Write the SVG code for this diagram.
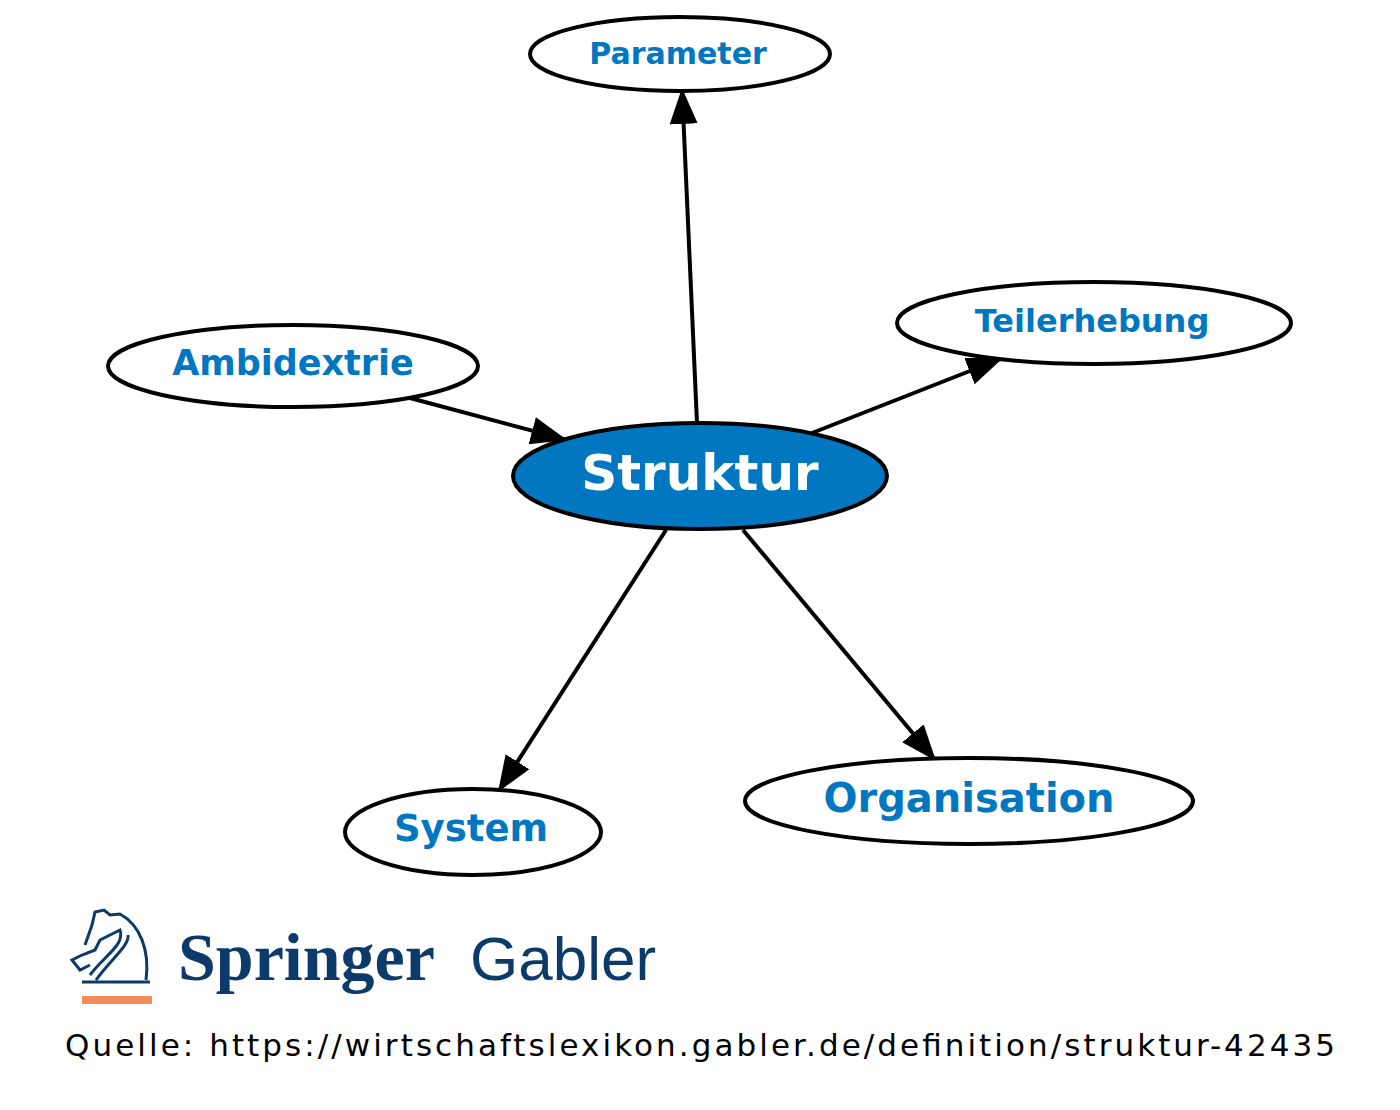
<svg xmlns="http://www.w3.org/2000/svg" width="1400" height="1110" viewBox="0 0 1400 1110">
<style>
.n ellipse{fill:#fff;stroke:#000;stroke-width:4}
.n text{font-family:"DejaVu Sans",sans-serif;font-weight:bold;fill:#0077c0;text-anchor:middle}
.e line{stroke:#000;stroke-width:4}
</style>
<defs>
<marker id="a" markerUnits="userSpaceOnUse" markerWidth="40" markerHeight="30" refX="36" refY="14" orient="auto" viewBox="0 0 40 30">
<path d="M0,0 L36,14 L0,28 Z" fill="#000"/>
</marker>
</defs>
<rect width="1400" height="1110" fill="#fff"/>
<g class="e">
<line x1="697" y1="423" x2="682" y2="88" marker-end="url(#a)"/>
<line x1="410" y1="398" x2="567" y2="440" marker-end="url(#a)"/>
<line x1="812" y1="433" x2="1003" y2="358" marker-end="url(#a)"/>
<line x1="666" y1="530" x2="498" y2="792" marker-end="url(#a)"/>
<line x1="743" y1="530" x2="936" y2="761" marker-end="url(#a)"/>
</g>
<g id="parameter" class="n"><ellipse cx="680" cy="54" rx="150" ry="37"/><text x="678" y="64" font-size="30">Parameter</text></g>
<g id="teilerhebung" class="n"><ellipse cx="1094" cy="323" rx="197" ry="41"/><text x="1092" y="332" font-size="32">Teilerhebung</text></g>
<g id="ambidextrie" class="n"><ellipse cx="293" cy="366" rx="185" ry="41"/><text x="293" y="375" font-size="35">Ambidextrie</text></g>
<g id="struktur" class="n"><ellipse cx="700" cy="476" rx="187" ry="53" style="fill:#0077c0"/><text x="700" y="490" font-size="50" style="fill:#fff">Struktur</text></g>
<g id="system" class="n"><ellipse cx="473" cy="832" rx="128" ry="43"/><text x="471" y="841" font-size="37">System</text></g>
<g id="organisation" class="n"><ellipse cx="969" cy="801" rx="224" ry="43"/><text x="969" y="812" font-size="40">Organisation</text></g>
<g id="logo">
<path d="M82,982 L150,982 M96,980 C110,960 130,945 128,935 M90,975 C105,955 125,945 120,930 L110,935 L100,940 L95,950 L82,955 L72,960 L80,970 L90,965 M85,945 L92,925 L95,912 L104,910 L110,915 L120,914 C140,925 150,950 146,980" fill="none" stroke="#0c3a6b" stroke-width="3"/>
<rect x="82" y="996" width="70" height="8" fill="#f48c5c"/>
<text x="178" y="980" font-family="Liberation Serif,serif" font-weight="bold" font-size="68" fill="#0c3a6b">Springer</text>
<text x="470" y="980" font-family="Liberation Sans,sans-serif" font-size="62" fill="#0c3a6b">Gabler</text>
</g>
<text x="65" y="1056" font-family="DejaVu Sans,sans-serif" font-size="31" fill="#000" textLength="1270">Quelle: https://wirtschaftslexikon.gabler.de/definition/struktur-42435</text>
</svg>
